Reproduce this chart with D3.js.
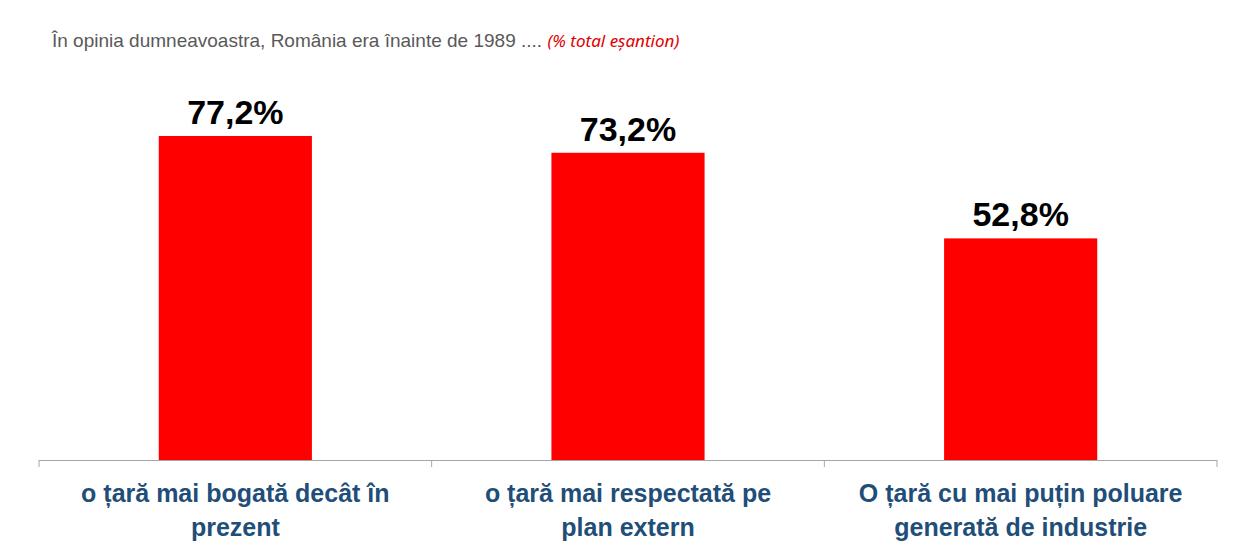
<!DOCTYPE html>
<html><head><meta charset="utf-8">
<script src="https://cdn.jsdelivr.net/npm/d3@7/dist/d3.min.js"></script>
<style>body{margin:0;background:#fff}</style></head>
<body><svg id="c" width="1259" height="556"></svg>
<script>
const categories = [["o țară mai bogată decât în","prezent"],["o țară mai respectată pe","plan extern"],["O țară cu mai puțin poluare","generată de industrie"]];
const values = [77.2, 73.2, 52.8];
const valueLabels = ["77,2%","73,2%","52,8%"];

const svg = d3.select("#c");
const x = d3.scaleBand().domain(d3.range(values.length)).range([39,1217]).paddingInner(0.61).paddingOuter(0.305);
const y = d3.scaleLinear().domain([0,109.6]).range([460,0]);
const ff = "Liberation Sans, Arial, sans-serif";

const t = svg.append("text").attr("x",52).attr("y",47).attr("font-family",ff).attr("font-size",19).attr("fill","#595959");
t.append("tspan").text("În opinia dumneavoastra, România era înainte de 1989 .... ");
t.append("tspan").attr("fill","#e00000").attr("font-style","italic").attr("font-size",17).attr("font-family","Noto Sans, sans-serif").text("(% total eșantion)");

svg.selectAll("rect.b").data(values).join("rect").attr("class","b")
 .attr("x",(d,i)=>x(i)).attr("width",x.bandwidth()).attr("y",d=>y(d)).attr("height",d=>y(0)-y(d)).attr("fill","#ff0000");

svg.selectAll("text.v").data(values).join("text").attr("class","v")
 .attr("x",(d,i)=>x(i)+x.bandwidth()/2).attr("y",d=>y(d)-12).attr("text-anchor","middle")
 .attr("font-family",ff).attr("font-weight","bold").attr("font-size",34).attr("fill","#000").text((d,i)=>valueLabels[i]);

const step = x.step();
svg.append("line").attr("x1",39).attr("x2",1217).attr("y1",460.5).attr("y2",460.5).attr("stroke","#a6a6a6");
d3.range(values.length+1).forEach(i=>{
  const xx = 39 + i*(1178/values.length);
  svg.append("line").attr("x1",xx).attr("x2",xx).attr("y1",460).attr("y2",467).attr("stroke","#a6a6a6");
});
categories.forEach((lines,i)=>{
  const tx = svg.append("text").attr("text-anchor","middle").attr("font-family",ff).attr("font-weight","bold").attr("font-size",25).attr("fill","#1f4e79");
  lines.forEach((l,j)=>tx.append("tspan").attr("x",x(i)+x.bandwidth()/2).attr("y",502+j*34).text(l));
});
</script></body></html>
